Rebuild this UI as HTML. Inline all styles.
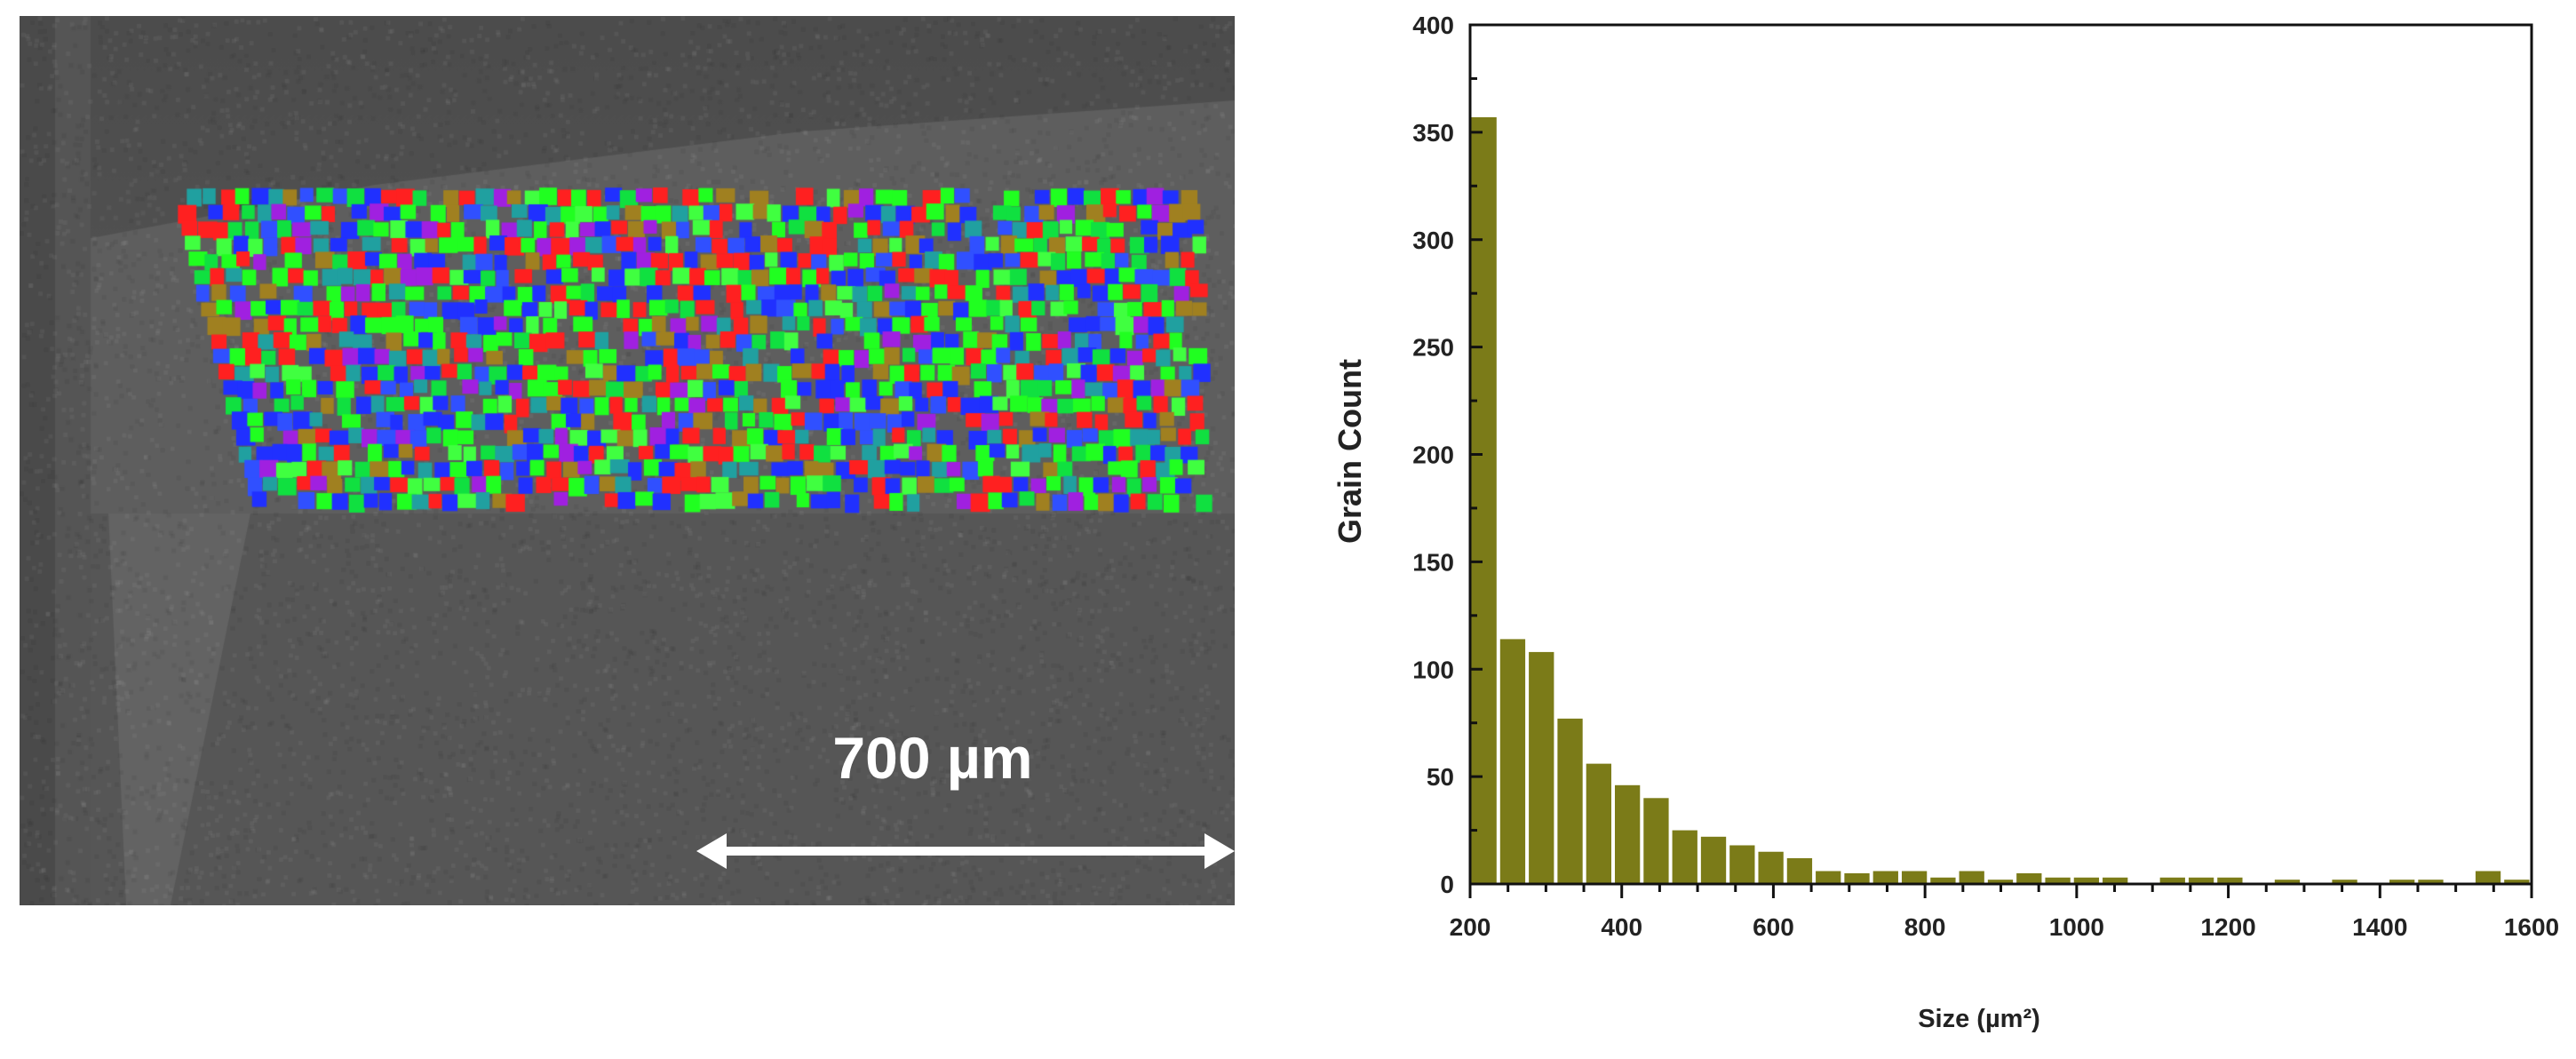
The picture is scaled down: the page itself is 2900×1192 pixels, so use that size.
<!DOCTYPE html>
<html><head><meta charset="utf-8"><style>
html,body{margin:0;padding:0;background:#fff;width:2900px;height:1192px;overflow:hidden}
#sem{position:absolute;left:22px;top:18px}
#chart{position:absolute;left:0;top:0}
</style></head><body>
<canvas id="sem" width="1368" height="1001"></canvas>
<svg id="chart" width="2900" height="1192" font-family="Liberation Sans, sans-serif">
<text x="1050" y="876" font-size="66" font-weight="bold" fill="#fff" text-anchor="middle">700 µm</text>
<g>
<line x1="800" y1="958" x2="1374" y2="958" stroke="#fff" stroke-width="10"/>
<polygon points="784,958 818,938 818,978" fill="#fff"/>
<polygon points="1390,958 1356,938 1356,978" fill="#fff"/>
</g>
<g id="bars"></g>
<g id="axes"></g>
<text x="1532" y="508" font-size="36" font-weight="bold" fill="#222" text-anchor="middle" transform="rotate(-90 1532 508)">Grain Count</text>
<text x="2228" y="1156" font-size="29" font-weight="bold" fill="#222" text-anchor="middle">Size (µm²)</text>
</svg>
<script>
const counts=[357,114,108,77,56,46,40,25,22,18,15,12,6,5,6,6,3,6,2,5,3,3,3,0,3,3,3,0,2,0,2,0,2,2,0,6,2];
const binStart=200, binEnd=1600;
const xTicks=[200,400,600,800,1000,1200,1400,1600];
const yTicks=[0,50,100,150,200,250,300,350,400];
const L=1655,R=2850,T=28,B=995;
const xS=v=>L+(v-binStart)/(binEnd-binStart)*(R-L);
const yS=v=>B-v/400*(B-T);
const NS='http://www.w3.org/2000/svg';
function mk(t,a,p){const e=document.createElementNS(NS,t);for(const k in a)e.setAttribute(k,a[k]);p.appendChild(e);return e;}
const bars=document.getElementById('bars'),axes=document.getElementById('axes');
const w=(binEnd-binStart)/counts.length;
counts.forEach((c,i)=>{if(!c)return;
 const x0=xS(binStart+i*w),x1=xS(binStart+(i+1)*w);
 const r=mk('rect',{x:x0+1.5,y:yS(c),width:x1-x0-4,height:B-yS(c),fill:'#7b7b18'},bars);
 
 
});
mk('rect',{x:L,y:T,width:R-L,height:B-T,fill:'none',stroke:'#111','stroke-width':3},axes);
for(let v=binStart;v<=binEnd;v+=50){const maj=xTicks.includes(v);mk('line',{x1:xS(v),x2:xS(v),y1:B,y2:B+(maj?16:9),stroke:'#111','stroke-width':3},axes);}
xTicks.forEach(v=>{const t=mk('text',{x:xS(v),y:B+58,'font-size':28,'font-weight':'bold',fill:'#222','text-anchor':'middle'},axes);t.textContent=v;
 
 });
for(let v=0;v<=400;v+=25){const maj=v%50==0;mk('line',{x1:L,x2:L+(maj?14:8),y1:yS(v),y2:yS(v),stroke:'#111','stroke-width':3},axes);}
yTicks.forEach(v=>{const t=mk('text',{x:L-18,y:yS(v)+10,'font-size':28,'font-weight':'bold',fill:'#222','text-anchor':'end'},axes);t.textContent=v;
 
 });
// SEM micrograph
const cv=document.getElementById('sem'),g=cv.getContext('2d');
let s=12345;const rnd=()=>(s=(s*16807)%2147483647)/2147483647;
g.fillStyle='#565656';g.fillRect(0,0,1368,1001);
let gr=g.createLinearGradient(0,0,0,250);gr.addColorStop(0,'#4c4c4c');gr.addColorStop(1,'#505050');
g.fillStyle=gr;g.fillRect(0,0,1368,250);
g.fillStyle='#5e5e5e';g.beginPath();g.moveTo(80,250);g.lineTo(400,190);g.lineTo(880,130);g.lineTo(1368,95);g.lineTo(1368,560);g.lineTo(80,560);g.fill();
g.fillStyle='#4a4a4a';g.fillRect(0,0,40,1001);
g.fillStyle='#555';g.fillRect(40,0,40,1001);
g.fillStyle='rgba(255,255,255,0.08)';g.beginPath();g.moveTo(100,560);g.lineTo(260,560);g.lineTo(170,1001);g.lineTo(120,1001);g.fill();
for(let i=0;i<8000;i++){g.fillStyle='rgba('+(rnd()<.5?'255,255,255':'0,0,0')+',0.05)';g.fillRect(rnd()*1368,rnd()*1001,5,5);}
const cols=['#ff2020','#20ff20','#2030ff','#10e040','#a020e0','#20a0a0','#a08020','#40ff40','#3050ff','#ff2020','#20ff20','#2030ff'];
const gx0=172,gx1=1324,gy0=195,gy1=540,cs=18;
for(let y=gy0;y<gy1;y+=cs){const lx=gx0+(y-gy0)/(gy1-gy0)*90;
 for(let x=lx;x<gx1;x+=cs){if(rnd()<0.12)continue;g.fillStyle=cols[Math.floor(rnd()*cols.length)];g.fillRect(x+rnd()*4-2,y+rnd()*4-2,cs+rnd()*8-4,cs+rnd()*6-3);}}
</script>
</body></html>
